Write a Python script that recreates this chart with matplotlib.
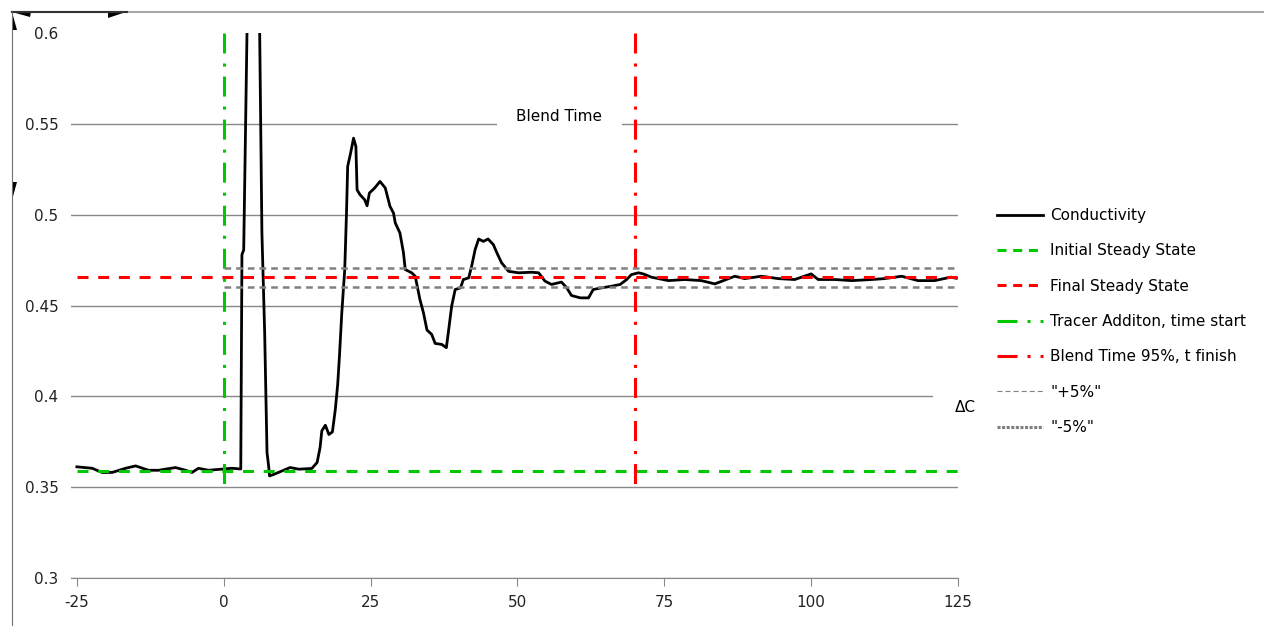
import matplotlib
matplotlib.use('Agg')
import matplotlib.pyplot as plt
from matplotlib.lines import Line2D
from matplotlib.patches import Polygon

plt.rcParams['font.family'] = ['DejaVu Sans']
plt.rcParams['axes.unicode_minus'] = False
plt.rcParams['lines.scale_dashes'] = False

# --- data ---
time_s = [-25, -22.4, -20.7, -19.0, -16.7, -15.0, -12.8, -11.1, -8.2, -6.5, -5.4, -4.3, -2.6, 1.4,
          2.9, 3.1, 3.4, 3.96, 4.2, 5.8, 6.12, 6.5, 6.97, 7.37, 7.65, 7.8,
          8.5, 11.3, 12.8, 15.0, 15.9, 16.4, 16.7, 17.3, 17.9, 18.5, 19.0, 19.4, 19.7, 20.1,
          20.6, 20.9, 21.1, 21.6, 22.1, 22.5, 22.7, 23.2, 24.0, 24.4, 24.8, 25.7, 26.6, 27.5,
          28.3, 28.9, 29.2, 30.0, 30.6, 30.9, 32.0, 32.6, 33.4, 34.0, 34.6, 35.4, 36.0, 37.1,
          37.9, 38.3, 38.8, 39.4, 40.3, 40.8, 41.7, 42.2, 42.8, 43.4, 44.2, 45.0, 45.9, 46.5,
          47.3, 48.5, 50.2, 52.4, 53.6, 54.7, 55.8, 57.5, 58.4, 59.2, 60.7, 62.1, 62.9, 64.3,
          66.0, 67.5, 68.6, 69.4, 70.6, 71.4, 72.8, 75.7, 78.5, 81.3, 83.6, 87.0, 88.7, 91.5,
          94.4, 97.2, 100.0, 101.2, 104.0, 106.9, 110.3, 112.5, 115.4, 118.2, 121.0, 123.8, 124.7]
conductivity = [0.3612, 0.3604, 0.3581, 0.3581, 0.3604, 0.3617, 0.3593, 0.3593, 0.3608, 0.3593,
                0.3581, 0.3604, 0.3593, 0.3604,
                0.3600, 0.4780, 0.4806, 0.6000, 0.7000, 0.7000, 0.6000, 0.4900, 0.4350, 0.3690,
                0.3615, 0.3562,
                0.3570, 0.3608, 0.3599, 0.3603, 0.3636, 0.3718, 0.3810, 0.3841, 0.3790, 0.3804,
                0.3929, 0.4066, 0.4221, 0.4460, 0.4698, 0.5009, 0.5266, 0.5339, 0.5421, 0.5375,
                0.5137, 0.5110, 0.5082, 0.5049, 0.5119, 0.5147, 0.5183, 0.5147, 0.5046, 0.5009,
                0.4955, 0.4899, 0.4790, 0.4698, 0.4680, 0.4661, 0.4533, 0.4460, 0.4365, 0.4341,
                0.4291, 0.4286, 0.4268, 0.4368, 0.4496, 0.4588, 0.4597, 0.4643, 0.4652, 0.4716,
                0.4808, 0.4866, 0.4853, 0.4866, 0.4835, 0.4790, 0.4735, 0.4688, 0.4680, 0.4683,
                0.4680, 0.4634, 0.4616, 0.4629, 0.4597, 0.4555, 0.4542, 0.4542, 0.4588, 0.4597,
                0.4606, 0.4616, 0.4643, 0.4670, 0.4680, 0.4674, 0.4656, 0.4637, 0.4643, 0.4637,
                0.4619, 0.4661, 0.4648, 0.4661, 0.4648, 0.4643, 0.4674, 0.4643, 0.4643, 0.4637,
                0.4643, 0.4648, 0.4661, 0.4637, 0.4637, 0.4656, 0.4650]

steady_x = [-25, 125]
initial_ss = [0.359, 0.359]
final_ss = [0.4658, 0.4658]
band_x = [0, 125]
plus5 = [0.4705, 0.4705]
minus5 = [0.4604, 0.4604]
tracer_x = [0, 0]
blend_x = [70, 70]
marker_y = [0.6, 0.348]

y_ticks = [0.3, 0.35, 0.4, 0.45, 0.5, 0.55, 0.6]
y_labels = ['0.3', '0.35', '0.4', '0.45', '0.5', '0.55', '0.6']
x_ticks = [-25, 0, 25, 50, 75, 100, 125]

labels = ['Conductivity', 'Initial Steady State', 'Final Steady State',
          'Tracer Additon, time start', 'Blend Time 95%, t finish', '"+5%"', '"-5%"']

GREEN = '#00C800'
RED = '#FF0000'
GRAY = '#888888'

W, H = 1264, 626
fig = plt.figure(figsize=(W / 100, H / 100), dpi=100)
ax = fig.add_axes([71 / W, 1 - 578 / H, (958 - 71) / W, (578 - 33) / H])

ax.plot(time_s, conductivity, color='black', lw=2.0)
ax.plot(steady_x, initial_ss, color=GREEN, lw=2.2, dashes=(7.9, 7))
ax.plot(steady_x, final_ss, color=RED, lw=2.2, dashes=(7.9, 7))
ax.plot(tracer_x, marker_y, color=GREEN, lw=2.2, dashes=(14.4, 7.2, 2.2, 7.2), clip_on=False)
ax.plot(blend_x, marker_y, color=RED, lw=2.2, dashes=(14.4, 7.2, 2.2, 7.2), clip_on=False)
ax.plot(band_x, plus5, color='#808080', lw=1.8, dashes=(4.8, 3.6))
ax.plot(band_x, minus5, color='#808080', lw=1.8, dashes=(4.8, 3.6))

ax.set_xlim(-26, 125)
ax.set_ylim(0.3, 0.6)
ax.set_yticks(y_ticks)
ax.set_yticklabels(y_labels)
ax.set_xticks(x_ticks)
ax.tick_params(axis='y', length=0, pad=9, labelsize=11, labelcolor='#222222')
ax.tick_params(axis='x', length=6, color=GRAY, pad=6, labelsize=11, labelcolor='#222222')
ax.yaxis.grid(True, color=GRAY, lw=1.0)
ax.set_axisbelow(True)
ax.get_ygridlines()[-1].set_visible(False)
for side in ['top', 'right', 'left']:
    ax.spines[side].set_visible(False)
ax.spines['bottom'].set_color(GRAY)

# labels with white boxes over gridlines
ax.text(57.1, 0.5538, 'Blend Time', ha='center', va='center', fontsize=11,
        bbox=dict(facecolor='white', edgecolor='none', pad=14))
ax.text(126.3, 0.394, 'ΔC', ha='center', va='center', fontsize=11, clip_on=False,
        bbox=dict(facecolor='white', edgecolor='none', pad=16))

# legend
handles = [
    Line2D([], [], color='black', lw=2.0),
    Line2D([], [], color=GREEN, lw=2.2, dashes=(6.5, 4.8)),
    Line2D([], [], color=RED, lw=2.2, dashes=(6.5, 4.8)),
    Line2D([], [], color=GREEN, lw=2.2, dashes=(14.4, 7.2, 2.2, 7.2)),
    Line2D([], [], color=RED, lw=2.2, dashes=(14.4, 7.2, 2.2, 7.2)),
    Line2D([], [], color='#808080', lw=0.8, dashes=(3.6, 2.2)),
    Line2D([], [], color='#808080', lw=2.2, dashes=(2.2, 1.1)),
]
fig.legend(handles, labels, loc='upper left', bbox_to_anchor=(997 / W, 1 - 208 / H),
           frameon=False, fontsize=11, handlelength=3.0, handletextpad=0.5,
           labelspacing=1.33, borderpad=0, borderaxespad=0)

# selection frame leftovers around the chart
def px(x, y):
    return (x / W, 1 - y / H)

fig.add_artist(Line2D([12 / W, 1], [1 - 12 / H, 1 - 12 / H], transform=fig.transFigure,
                      color='#a8a8a8', lw=1.5))
fig.add_artist(Line2D([12 / W, 127 / W], [1 - 12 / H, 1 - 12 / H], transform=fig.transFigure,
                      color='#333333', lw=1.5))
fig.add_artist(Line2D([12 / W, 12 / W], [0, 1 - 12 / H], transform=fig.transFigure,
                      color='#707070', lw=0.8))
for tri in [[(12, 12), (31, 12), (30, 17)], [(108, 12), (126, 12), (108, 18)],
            [(12, 12), (12, 30), (17, 30)], [(12, 182), (12, 200), (17, 182)]]:
    fig.add_artist(Polygon([px(*p) for p in tri], closed=True, transform=fig.transFigure,
                           facecolor='black', edgecolor='none'))

fig.savefig('out.png', dpi=100)
